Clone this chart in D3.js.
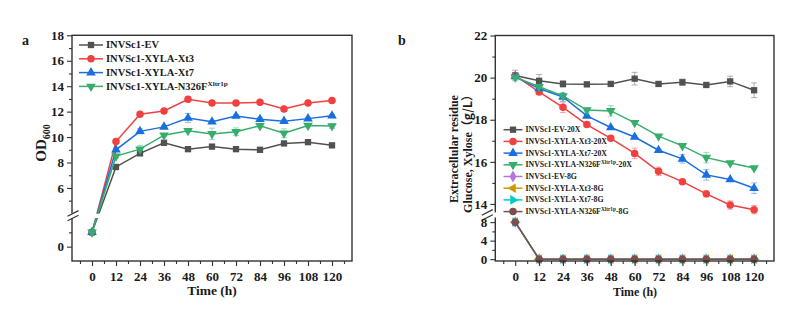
<!DOCTYPE html>
<html><head><meta charset="utf-8">
<script src="https://cdn.jsdelivr.net/npm/d3@7"></script>
<style>
body{margin:0;background:#fff}
svg{display:block}
text{font-family:"Liberation Serif","Times New Roman",serif;font-weight:bold;fill:#1a1a1a}
</style>
</head><body>
<svg id="c" width="794" height="313"></svg>
<script>
// ---------- DATA ----------
const times = [0, 12, 24, 36, 48, 60, 72, 84, 96, 108, 120];
const xTickLabels = [0, 12, 24, 36, 48, 60, 72, 84, 96, 108, 120];

// Panel a: OD600
const odNames = ["INVSc1-EV", "INVSc1-XYLA-Xt3", "INVSc1-XYLA-Xt7", "INVSc1-XYLA-N326F"];
const odEV    = [1.0, 7.65, 8.72, 9.55, 9.05, 9.25, 9.05, 9.0, 9.5, 9.6, 9.35];
const odXt3   = [1.0, 9.65, 11.8, 12.05, 12.97, 12.67, 12.67, 12.73, 12.2, 12.67, 12.88];
const odXt7   = [1.0, 9.0, 10.45, 10.8, 11.5, 11.2, 11.65, 11.4, 11.25, 11.45, 11.67];
const odN326F = [1.0, 8.5, 9.05, 10.15, 10.5, 10.25, 10.42, 10.88, 10.3, 10.9, 10.87];
const odEVerr    = [0.08, 0.1, 0.15, 0.1, 0.1, 0.1, 0.1, 0.1, 0.15, 0.1, 0.1];
const odXt3err   = [0.08, 0.15, 0.12, 0.1, 0.1, 0.1, 0.1, 0.1, 0.1, 0.1, 0.1];
const odXt7err   = [0.08, 0.15, 0.2, 0.1, 0.35, 0.1, 0.12, 0.15, 0.1, 0.1, 0.1];
const odN326Ferr = [0.08, 0.15, 0.3, 0.1, 0.1, 0.45, 0.3, 0.1, 0.35, 0.1, 0.2];
const odYTicksUpper = [6, 8, 10, 12, 14, 16, 18];
const odYTicksLower = [0];

// Panel b: residual sugars
const sugNames = ["INVSc1-EV-20X", "INVSc1-XYLA-Xt3-20X", "INVSc1-XYLA-Xt7-20X", "INVSc1-XYLA-N326F|-20X",
                  "INVSc1-EV-8G", "INVSc1-XYLA-Xt3-8G", "INVSc1-XYLA-Xt7-8G", "INVSc1-XYLA-N326F|-8G"];
const xylEV    = [20.1, 19.85, 19.7, 19.68, 19.7, 19.95, 19.7, 19.78, 19.65, 19.82, 19.4];
const xylXt3   = [20.1, 19.32, 18.59, 17.77, 17.12, 16.4, 15.55, 15.06, 14.48, 13.95, 13.73];
const xylXt7   = [20.05, 19.48, 19.08, 18.18, 17.63, 17.18, 16.55, 16.14, 15.38, 15.16, 14.75];
const xylN326F = [20.02, 19.57, 19.13, 18.46, 18.42, 17.86, 17.22, 16.76, 16.2, 15.95, 15.71];
const xylEVerr    = [0.25, 0.3, 0.15, 0.05, 0.05, 0.3, 0.1, 0.15, 0.05, 0.25, 0.35];
const xylXt3err   = [0.1, 0.1, 0.25, 0.1, 0.1, 0.25, 0.2, 0.05, 0.15, 0.2, 0.2];
const xylXt7err   = [0.1, 0.1, 0.2, 0.05, 0.05, 0.05, 0.05, 0.2, 0.25, 0.05, 0.25];
const xylN326Ferr = [0.1, 0.05, 0.1, 0.1, 0.25, 0.05, 0.05, 0.05, 0.25, 0.05, 0.05];
const gluEV    = [8, 0, 0, 0, 0, 0, 0, 0, 0, 0, 0];
const gluXt3   = [8, 0, 0, 0, 0, 0, 0, 0, 0, 0, 0];
const gluXt7   = [8, 0, 0, 0, 0, 0, 0, 0, 0, 0, 0];
const gluN326F = [8, 0, 0, 0, 0, 0, 0, 0, 0, 0, 0];
const zeroErr  = [0, 0, 0, 0, 0, 0, 0, 0, 0, 0, 0];
const sugYTicksUpper = [14, 16, 18, 20, 22];
const sugYTicksLower = [0, 4, 8];

const colors = ["#515151", "#F14040", "#1A6FDF", "#37AD6B", "#B177DE", "#CC9900", "#00CBCC", "#7D4E4E"];
const superscript = "Xltr1p";

// ---------- HELPERS ----------
const svg = d3.select("#c");
const sym = {
  square:  {t: d3.symbolSquare, r: 0, s: 40},
  circle:  {t: d3.symbolCircle, r: 0, s: 44},
  up:      {t: d3.symbolTriangle, r: 0, s: 40},
  down:    {t: d3.symbolTriangle, r: 180, s: 40},
  diamond: {t: d3.symbolDiamond, r: 0, s: 40},
  left:    {t: d3.symbolTriangle, r: -90, s: 40},
  right:   {t: d3.symbolTriangle, r: 90, s: 40}
};
function marker(g, kind, x, y, color, scale) {
  const s = sym[kind];
  g.append("path").attr("d", d3.symbol(s.t, s.s * (scale || 1))())
    .attr("transform", `translate(${x},${y}) rotate(${s.r})`)
    .attr("fill", color);
}
function legendLabel(g, x, y, name, fs) {
  const t = g.append("text").attr("x", x).attr("y", y).attr("font-size", fs);
  const parts = name.split("|");
  t.append("tspan").text(parts[0]);
  if (parts.length > 1 || name.endsWith("N326F")) {
    t.append("tspan").attr("dy", -fs * 0.38).attr("font-size", fs * 0.68).text(superscript);
    t.append("tspan").attr("dy", fs * 0.38).text(parts[1] || "");
  }
}

function panel(cfg) {
  const g = svg.append("g");
  const x = d3.scaleLinear().domain([-10, 130]).range([cfg.left, cfg.right]);
  const yU = d3.scaleLinear().domain(cfg.upDom).range([cfg.gapTop, cfg.top]);
  const yL = d3.scaleLinear().domain(cfg.lowDom).range([cfg.bottom, cfg.gapBot]);
  const y = v => (v > (cfg.lowDom[1] + cfg.upDom[0]) / 2 ? yU(v) : yL(v));

  const clipId = "clip" + cfg.id;
  const cp = svg.append("clipPath").attr("id", clipId);
  cp.append("rect").attr("x", cfg.left).attr("y", cfg.top).attr("width", cfg.right - cfg.left).attr("height", cfg.gapTop - cfg.top);
  cp.append("rect").attr("x", cfg.left).attr("y", cfg.gapBot).attr("width", cfg.right - cfg.left).attr("height", cfg.bottom - cfg.gapBot);

  // error bars
  const eg = g.append("g");
  cfg.series.forEach(s => {
    s.vals.forEach((v, i) => {
      const e = s.err[i];
      if (!e) return;
      const cx = x(times[i]);
      eg.append("line").attr("x1", cx).attr("x2", cx).attr("y1", y(v - e)).attr("y2", y(v + e))
        .attr("stroke", s.color).attr("stroke-opacity", 0.45).attr("stroke-width", 1);
      [v - e, v + e].forEach(w => eg.append("line").attr("x1", cx - 3).attr("x2", cx + 3).attr("y1", y(w)).attr("y2", y(w))
        .attr("stroke", s.color).attr("stroke-opacity", 0.45).attr("stroke-width", 1));
    });
  });
  // lines + markers
  cfg.series.forEach(s => {
    const line = d3.line().x((d, i) => x(times[i])).y(d => y(d));
    g.append("path").attr("d", line(s.vals)).attr("fill", "none").attr("stroke", s.color)
      .attr("stroke-width", 1.5).attr("clip-path", `url(#${clipId})`);
    const mg = g.append("g");
    s.vals.forEach((v, i) => marker(mg, s.sym, x(times[i]), y(v), s.color, cfg.msc));
  });

  // box
  g.append("rect").attr("x", cfg.left).attr("y", cfg.top).attr("width", cfg.right - cfg.left).attr("height", cfg.bottom - cfg.top)
    .attr("fill", "none").attr("stroke", "#333").attr("stroke-width", 1.4);
  // white gap on left axis
  g.append("rect").attr("x", cfg.left - 1.5).attr("y", cfg.gapTop).attr("width", 3).attr("height", cfg.gapBot - cfg.gapTop).attr("fill", "#fff");
  // break slashes
  [cfg.gapTop, cfg.gapBot].forEach(yy => g.append("line")
    .attr("x1", cfg.left + cfg.brkOff - 5.5).attr("y1", yy + 2.8).attr("x2", cfg.left + cfg.brkOff + 5.5).attr("y2", yy - 2.8)
    .attr("stroke", "#333").attr("stroke-width", 1.2));

  const fmt = d3.format("d");
  // x axis
  const xa = g.append("g").attr("transform", `translate(0,${cfg.bottom})`)
    .call(d3.axisBottom(x).tickValues(xTickLabels).tickSize(5).tickSizeOuter(0).tickPadding(3).tickFormat(fmt));
  const xm = g.append("g").attr("transform", `translate(0,${cfg.bottom})`)
    .call(d3.axisBottom(x).tickValues(d3.range(-6, 130, 12)).tickSize(3).tickFormat(""));
  // y axes
  const ya1 = g.append("g").attr("transform", `translate(${cfg.left},0)`)
    .call(d3.axisLeft(yU).tickValues(cfg.upTicks).tickSize(5).tickPadding(3).tickFormat(fmt));
  const ym1 = g.append("g").attr("transform", `translate(${cfg.left},0)`)
    .call(d3.axisLeft(yU).tickValues(cfg.upMinor).tickSize(3).tickFormat(""));
  const ya2 = g.append("g").attr("transform", `translate(${cfg.left},0)`)
    .call(d3.axisLeft(yL).tickValues(cfg.lowTicks).tickSize(5).tickPadding(3).tickFormat(fmt));
  const ym2 = g.append("g").attr("transform", `translate(${cfg.left},0)`)
    .call(d3.axisLeft(yL).tickValues(cfg.lowMinor).tickSize(3).tickFormat(""));
  [xa, xm, ya1, ym1, ya2, ym2].forEach(a => {
    a.select(".domain").remove();
    a.selectAll("line").attr("stroke", "#333").attr("stroke-width", 1.1);
    a.selectAll("text").attr("font-size", cfg.tickFs).attr("font-family", null).attr("fill", "#1a1a1a");
  });
  xa.selectAll("text").attr("dy", "0.9em");

  // legend
  const lg = g.append("g");
  cfg.series.forEach((s, i) => {
    const yy = cfg.legY + i * cfg.legDy;
    lg.append("line").attr("x1", cfg.legX).attr("x2", cfg.legX + cfg.legLen).attr("y1", yy).attr("y2", yy)
      .attr("stroke", s.color).attr("stroke-width", 1.5);
    marker(lg, s.sym, cfg.legX + cfg.legLen / 2, yy, s.color, cfg.msc);
    legendLabel(lg, cfg.legX + cfg.legLen + 3, yy + cfg.legFs * 0.33, s.name, cfg.legFs);
  });
  return g;
}

// ---------- PANEL a ----------
const gA = panel({
  id: "a", left: 72, right: 352, top: 35.3, bottom: 261, gapTop: 213.4, gapBot: 218,
  upDom: [4, 18], lowDom: [-1, 2], upTicks: odYTicksUpper, upMinor: [5, 7, 9, 11, 13, 15, 17],
  lowTicks: odYTicksLower, lowMinor: [1], brkOff: 1, tickFs: 13, msc: 1,
  legX: 79, legLen: 24, legY: 45, legDy: 13.8, legFs: 10.5,
  series: [
    {name: odNames[0], vals: odEV, err: odEVerr, color: colors[0], sym: "square"},
    {name: odNames[1], vals: odXt3, err: odXt3err, color: colors[1], sym: "circle"},
    {name: odNames[2], vals: odXt7, err: odXt7err, color: colors[2], sym: "up"},
    {name: odNames[3], vals: odN326F, err: odN326Ferr, color: colors[3], sym: "down"}
  ]
});

// ---------- PANEL b ----------
const gB = panel({
  id: "b", left: 495.3, right: 774, top: 35.5, bottom: 261, gapTop: 212.4, gapBot: 217.5,
  upDom: [13.6, 22], lowDom: [-0.4, 9], upTicks: sugYTicksUpper, upMinor: [15, 17, 19, 21],
  lowTicks: sugYTicksLower, lowMinor: [2, 6], brkOff: -8, tickFs: 13, msc: 1,
  legX: 503.5, legLen: 19, legY: 129.7, legDy: 11.7, legFs: 7.8,
  series: [
    {name: sugNames[0], vals: xylEV, err: xylEVerr, color: colors[0], sym: "square"},
    {name: sugNames[1], vals: xylXt3, err: xylXt3err, color: colors[1], sym: "circle"},
    {name: sugNames[2], vals: xylXt7, err: xylXt7err, color: colors[2], sym: "up"},
    {name: sugNames[3], vals: xylN326F, err: xylN326Ferr, color: colors[3], sym: "down"},
    {name: sugNames[4], vals: gluEV, err: zeroErr, color: colors[4], sym: "diamond"},
    {name: sugNames[5], vals: gluXt3, err: zeroErr, color: colors[5], sym: "left"},
    {name: sugNames[6], vals: gluXt7, err: zeroErr, color: colors[6], sym: "right"},
    {name: sugNames[7], vals: gluN326F, err: zeroErr, color: colors[7], sym: "circle"}
  ]
});

// ---------- TITLES ----------
svg.append("text").attr("x", 22).attr("y", 45).attr("font-size", 14).text("a");
svg.append("text").attr("x", 398).attr("y", 45).attr("font-size", 14).text("b");

svg.append("text").attr("x", 212).attr("y", 295).attr("text-anchor", "middle").attr("font-size", 13.5).text("Time (h)");
svg.append("text").attr("x", 635).attr("y", 296).attr("text-anchor", "middle").attr("font-size", 12).text("Time (h)");

const od = svg.append("text").attr("transform", "translate(46,143) rotate(-90)").attr("text-anchor", "middle").attr("font-size", 15);
od.append("tspan").text("OD");
od.append("tspan").attr("font-size", 10).attr("dy", 4).text("600");

svg.append("text").attr("transform", "translate(458,149) rotate(-90)").attr("text-anchor", "middle").attr("font-size", 12)
  .text("Extracellular residue");
const gx = svg.append("text").attr("transform", "translate(472,151) rotate(-90)").attr("text-anchor", "middle").attr("font-size", 12);
gx.append("tspan").text("Glucose, Xylose");
gx.append("tspan").attr("style", "font-family:'Noto Sans CJK SC'").text("（g/L）");
</script>
</body></html>
